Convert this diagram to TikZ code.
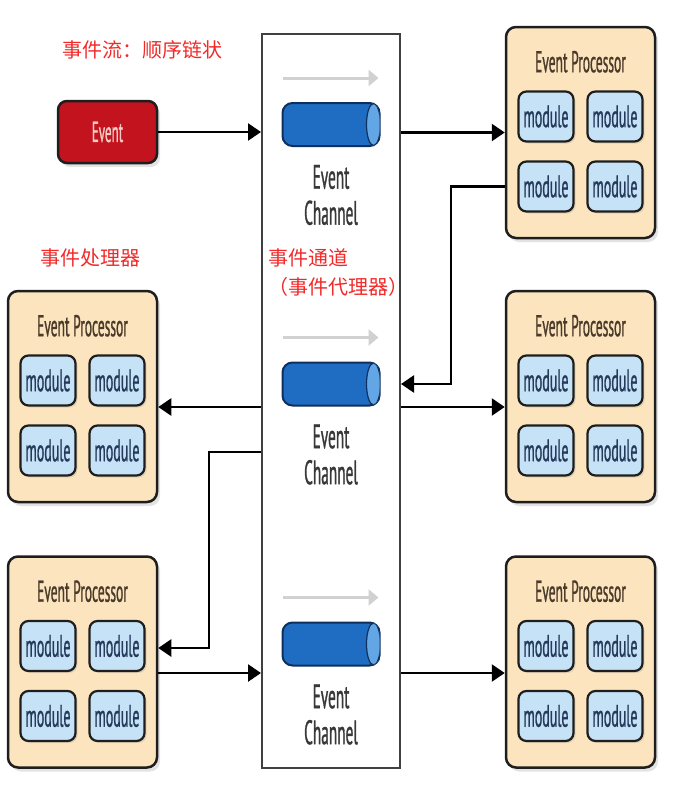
\documentclass[tikz,border=0pt]{standalone}
\usepackage{fontspec}
\usepackage{tikz}
\newfontfamily\narrowfont[FakeStretch=0.45, FakeBold=0.8]{PT Sans}
\newfontfamily\cjk{Noto Sans CJK SC}
\usetikzlibrary{arrows.meta, shadows, calc}

\definecolor{edge}{HTML}{1E1E1E}
\definecolor{procfill}{HTML}{FCE5BE}
\definecolor{modfill}{HTML}{C6E2F6}
\definecolor{modtext}{HTML}{263A5C}
\definecolor{titletext}{HTML}{4A3A2A}
\definecolor{evfill}{HTML}{C2131F}
\definecolor{evtext}{HTML}{F6CBC4}
\definecolor{cylbody}{HTML}{1F6DC2}
\definecolor{cylend}{HTML}{62A6E6}
\definecolor{cyledge}{HTML}{0F2F5E}
\definecolor{notered}{HTML}{F22A2A}

\tikzset{
    proc/.style={draw=edge, line width=2.5pt, fill=procfill, rounded corners=10pt,
        minimum width=149pt, minimum height=211pt,
        drop shadow={opacity=0.22, shadow xshift=3pt, shadow yshift=-4pt}},
    ptitle/.style={text=titletext, font=\narrowfont\fontsize{30}{32}\selectfont},
    module/.style={draw=edge, line width=2.2pt, fill=modfill, rounded corners=8pt,
        minimum width=55pt, minimum height=50pt, inner sep=0pt, text=modtext,
        font=\narrowfont\fontsize{31}{32}\selectfont,
        drop shadow={opacity=0.2, shadow xshift=2pt, shadow yshift=-2pt}},
    chan/.style={draw=edge!85, line width=2pt, fill=white, minimum width=138pt, minimum height=734pt},
    cyl/.style={draw=cyledge, line width=2pt, fill=cylbody, rounded corners=10pt,
        minimum width=97pt, minimum height=43pt, inner sep=0pt},
    cylcap/.style={draw=cyledge, line width=1.2pt, fill=cylend},
    chtext/.style={text=black!78, align=center, font=\narrowfont\fontsize{34}{36}\selectfont},
    evnode/.style={draw=edge, line width=2.5pt, fill=evfill, rounded corners=9pt, text=evtext,
        minimum width=99pt, minimum height=62pt, font=\narrowfont\fontsize{29}{30}\selectfont,
        drop shadow={opacity=0.22, shadow xshift=3pt, shadow yshift=-4pt}},
    note/.style={text=notered, anchor=west, inner sep=0pt, font=\cjk\fontsize{20}{22}\selectfont},
    flow/.style={line width=2.5pt, draw=black, -{Triangle[length=13pt, width=17pt]}},
    gflow/.style={line width=3pt, draw=black!18, -{Triangle[length=10pt, width=16pt]}}
}

\begin{document}
\begin{tikzpicture}[x=1pt, y=-1pt]
        \useasboundingbox (0,0) rectangle (676,790);

        % event channel
        \node[chan] (chan) at (331,401) {};
        \node[cyl] (c1) at (331,124.5) {};
        \node[cyl] (c2) at (331,384) {};
        \node[cyl] (c3) at (331,644) {};
        \begin{scope}
            \clip[rounded corners=10pt] ($(c1.south west)+(1,-1)$) rectangle ($(c1.north east)+(-1,1)$);
            \draw[cylcap] ($(c1.east)+(-7,0)$) ellipse (7pt and 21pt);
        \end{scope}
        \begin{scope}
            \clip[rounded corners=10pt] ($(c2.south west)+(1,-1)$) rectangle ($(c2.north east)+(-1,1)$);
            \draw[cylcap] ($(c2.east)+(-7,0)$) ellipse (7pt and 21pt);
        \end{scope}
        \begin{scope}
            \clip[rounded corners=10pt] ($(c3.south west)+(1,-1)$) rectangle ($(c3.north east)+(-1,1)$);
            \draw[cylcap] ($(c3.east)+(-7,0)$) ellipse (7pt and 21pt);
        \end{scope}
        \node[chtext] (t1) at ($(c1)+(0,70.5)$) {Event\\Channel};
        \node[chtext] (t2) at ($(c2)+(0,70.5)$) {Event\\Channel};
        \node[chtext] (t3) at ($(c3)+(0,70.5)$) {Event\\Channel};
        \draw[gflow] ($(c1.west)+(1,-46.5)$) -- ($(c1.east)+(-2,-46.5)$);
        \draw[gflow] ($(c2.west)+(1,-46.5)$) -- ($(c2.east)+(-2,-46.5)$);
        \draw[gflow] ($(c3.west)+(1,-46.5)$) -- ($(c3.east)+(-2,-46.5)$);

        % event
        \node[evnode] (ev) at (107.5,132) {Event};

        % event processors
        \node[proc] (p1) at (580.5,132.5) {};
        \node[proc] (p2) at (82.5,396.5) {};
        \node[proc] (p3) at (580.5,396.5) {};
        \node[proc] (p4) at (82.5,662) {};
        \node[proc] (p5) at (580.5,662) {};

        \node[ptitle] (p1t) at ($(p1.north)+(0,36)$) {Event Processor};
        \node[ptitle] (p2t) at ($(p2.north)+(0,36)$) {Event Processor};
        \node[ptitle] (p3t) at ($(p3.north)+(0,36)$) {Event Processor};
        \node[ptitle] (p4t) at ($(p4.north)+(0,36)$) {Event Processor};
        \node[ptitle] (p5t) at ($(p5.north)+(0,36)$) {Event Processor};

        \node[module] (p1a) at ($(p1)+(-34.5,-16)$) {module};
        \node[module] (p1b) at ($(p1)+(34.5,-16)$) {module};
        \node[module] (p1c) at ($(p1)+(-34.5,54)$) {module};
        \node[module] (p1d) at ($(p1)+(34.5,54)$) {module};
        \node[module] (p2a) at ($(p2)+(-34.5,-16)$) {module};
        \node[module] (p2b) at ($(p2)+(34.5,-16)$) {module};
        \node[module] (p2c) at ($(p2)+(-34.5,54)$) {module};
        \node[module] (p2d) at ($(p2)+(34.5,54)$) {module};
        \node[module] (p3a) at ($(p3)+(-34.5,-16)$) {module};
        \node[module] (p3b) at ($(p3)+(34.5,-16)$) {module};
        \node[module] (p3c) at ($(p3)+(-34.5,54)$) {module};
        \node[module] (p3d) at ($(p3)+(34.5,54)$) {module};
        \node[module] (p4a) at ($(p4)+(-34.5,-16)$) {module};
        \node[module] (p4b) at ($(p4)+(34.5,-16)$) {module};
        \node[module] (p4c) at ($(p4)+(-34.5,54)$) {module};
        \node[module] (p4d) at ($(p4)+(34.5,54)$) {module};
        \node[module] (p5a) at ($(p5)+(-34.5,-16)$) {module};
        \node[module] (p5b) at ($(p5)+(34.5,-16)$) {module};
        \node[module] (p5c) at ($(p5)+(-34.5,54)$) {module};
        \node[module] (p5d) at ($(p5)+(34.5,54)$) {module};

        % connectors
        \draw[flow] (ev.east) -- (ev.east -| chan.west);
        \draw[flow] (chan.east |- p1) -- (p1.west);
        \draw[flow] ($(p1.west)+(0,54)$) -- ++(-54,0) |- (chan.east |- c2);
        \draw[flow] (chan.east |- 0,407) -- (p3.west |- 0,407);
        \draw[flow] (chan.west |- 0,407) -- (p2.east |- 0,407);
        \draw[flow] (chan.west |- 0,452) -- (209,452) |- (p4.east |- 0,648);
        \draw[flow] (p4.east |- 0,673) -- (chan.west |- 0,673);
        \draw[flow] (chan.east |- 0,673) -- (p5.west |- 0,673);

        % notes
        \node[note] (n1) at (62,50) {事件流：顺序链状};
        \node[note] (n2) at (40,258) {事件处理器};
        \node[note] (n3) at (268,258) {事件通道};
        \node[note] (n4) at (268,287) {（事件代理器）};
    \end{tikzpicture}
\end{document}
